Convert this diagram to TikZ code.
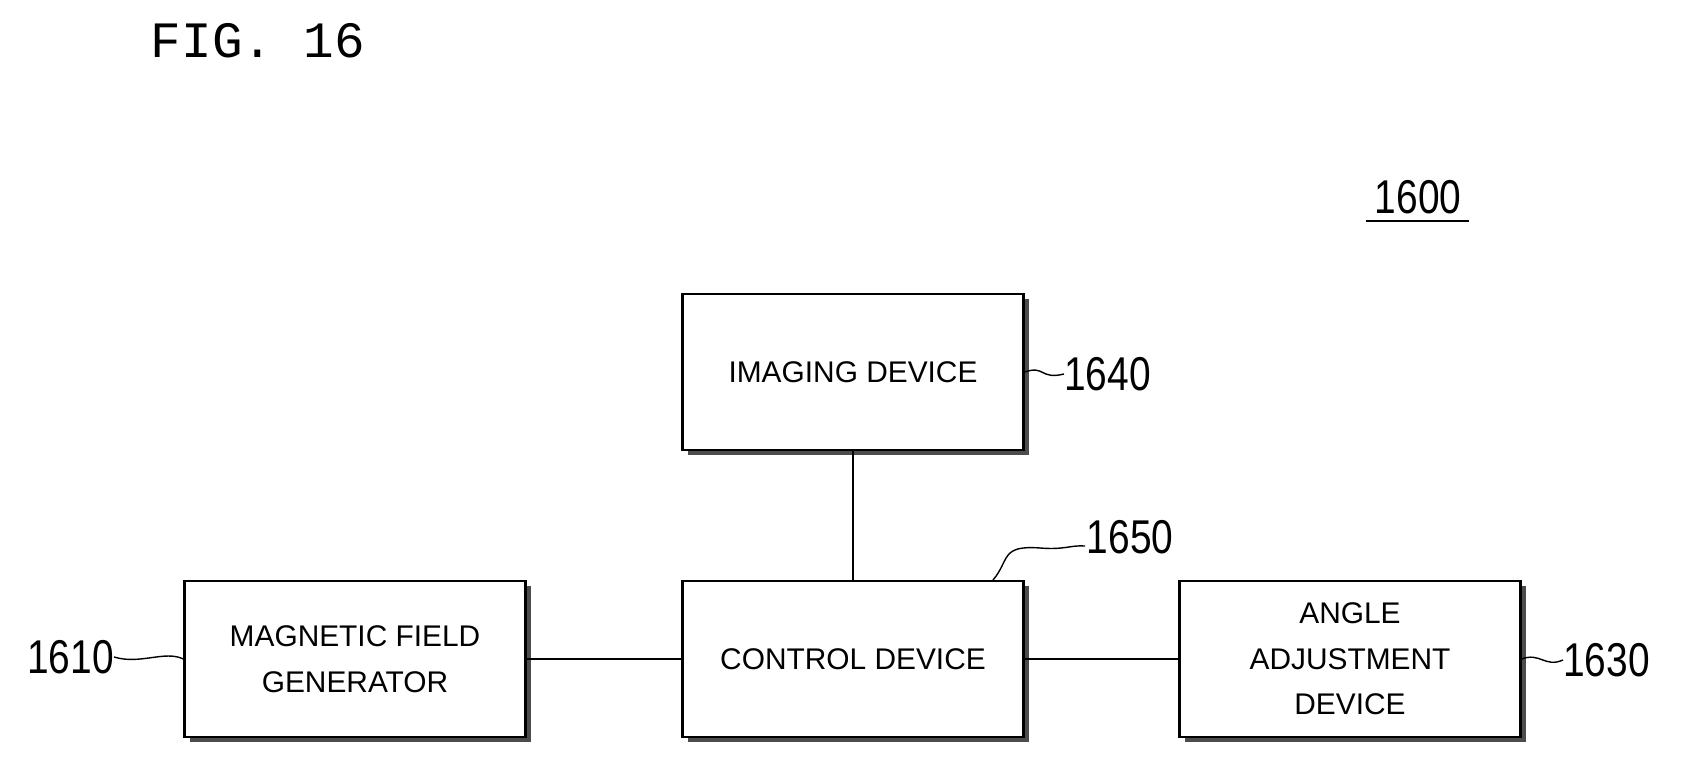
\documentclass[tikz,border=0pt]{standalone}
\usepackage{fontspec}
\setsansfont{Liberation Sans}
\setmonofont{Liberation Mono}
\usetikzlibrary{shadows,positioning}
\tikzset{
  block/.style={draw, line width=1.4pt, fill=white, minimum width=341\px, minimum height=156\px,
    align=center, font=\sffamily\fontsize{17}{26}\selectfont,
    drop shadow={shadow xshift=3pt, shadow yshift=-3pt, fill=black!70, opacity=1}},
  refnum/.style={font=\sffamily\fontsize{27}{27}\selectfont, xscale=0.82, inner sep=0pt},
  lead/.style={line width=0.8pt}
}
\newlength{\px}\setlength{\px}{0.02cm}
\begin{document}
\begin{tikzpicture}[x=0.02cm,y=-0.02cm]
    \useasboundingbox (0,0) rectangle (1686,766);

    \node[font=\ttfamily\fontsize{29}{29}\selectfont] (fig) at (258,41) {FIG. 16};
    \node[refnum] (sys) at (1418,197) {1600};
    \draw[line width=1pt] (1366,221) -- (1469,221);

	\node[block] (img) at (853,372) {IMAGING DEVICE};
	\node[block] (mag) at (355,659) {MAGNETIC FIELD\\GENERATOR};
	\node[block] (ctl) at (853,659) {CONTROL DEVICE};
	\node[block] (ang) at (1350,659) {ANGLE\\ADJUSTMENT\\DEVICE};

	\draw[line width=1pt] (img) -- (ctl);
	\draw[line width=1pt] (mag) -- (ctl);
	\draw[line width=1pt] (ctl) -- (ang);

	% reference numbers
	\node[refnum, anchor=west] (n1640) at (1064,374) {1640};
	\node[refnum, anchor=east] (n1610) at (114,657) {1610};
	\node[refnum, anchor=west] (n1630) at (1563,660) {1630};
	\node[refnum] (n1650) at (1130,537) {1650};

	\draw[lead] (img.east) .. controls (1045,365) and (1040,380) .. (n1640.west);
	\draw[lead] (mag.west) .. controls (165,650) and (140,665) .. (n1610.east);
	\draw[lead] (ang.east) .. controls (1540,652) and (1545,668) .. (n1630.west);
	\draw[lead] (993,580) .. controls (1010,560) and (1000,545) .. (1040,548)
	    .. controls (1065,550) and (1070,545) .. (1085,546);

    \end{tikzpicture}
\end{document}
